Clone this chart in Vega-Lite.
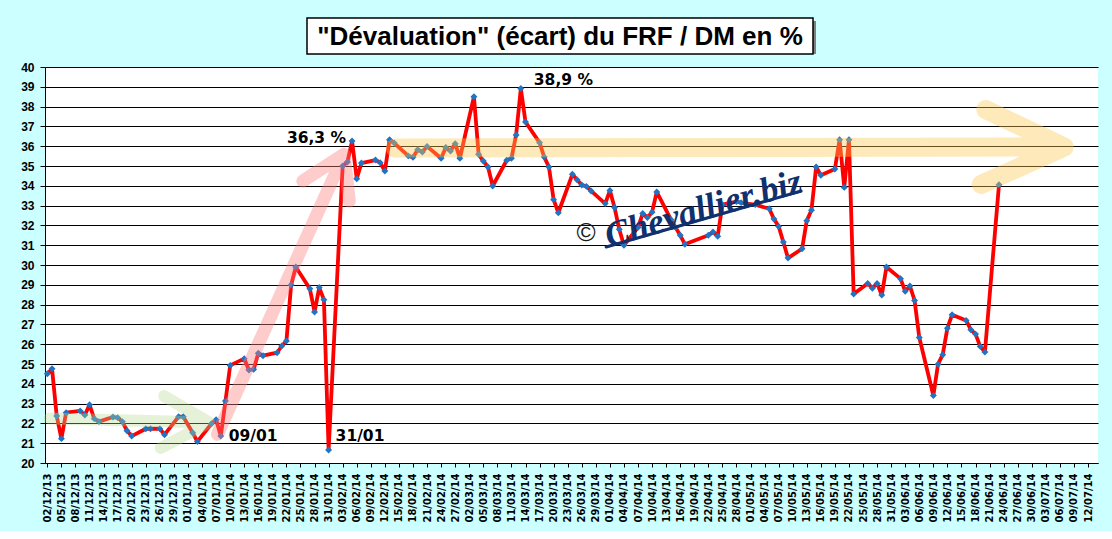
{
  "$schema": "https://vega.github.io/schema/vega-lite/v6.json",
  "background": "#CCFFFF",
  "padding": {"left": 20, "top": 17, "right": 15, "bottom": 8},
  "spacing": 6,
  "config": {"font": "Liberation Sans", "view": {"stroke": null}},
  "datasets": {
    "series": [
      {"date": "2013-12-02", "value": 24.51},
      {"date": "2013-12-03", "value": 24.76},
      {"date": "2013-12-04", "value": 22.37},
      {"date": "2013-12-05", "value": 21.23},
      {"date": "2013-12-06", "value": 22.54},
      {"date": "2013-12-09", "value": 22.63},
      {"date": "2013-12-10", "value": 22.42},
      {"date": "2013-12-11", "value": 22.94},
      {"date": "2013-12-12", "value": 22.24},
      {"date": "2013-12-13", "value": 22.09},
      {"date": "2013-12-16", "value": 22.32},
      {"date": "2013-12-17", "value": 22.29},
      {"date": "2013-12-18", "value": 22.09},
      {"date": "2013-12-19", "value": 21.63},
      {"date": "2013-12-20", "value": 21.36},
      {"date": "2013-12-23", "value": 21.73},
      {"date": "2013-12-24", "value": 21.73},
      {"date": "2013-12-26", "value": 21.73},
      {"date": "2013-12-27", "value": 21.43},
      {"date": "2013-12-30", "value": 22.34},
      {"date": "2013-12-31", "value": 22.34},
      {"date": "2014-01-02", "value": 21.53},
      {"date": "2014-01-03", "value": 21.08},
      {"date": "2014-01-06", "value": 21.98},
      {"date": "2014-01-07", "value": 22.19},
      {"date": "2014-01-08", "value": 21.36},
      {"date": "2014-01-09", "value": 23.13},
      {"date": "2014-01-10", "value": 24.93},
      {"date": "2014-01-13", "value": 25.27},
      {"date": "2014-01-14", "value": 24.70},
      {"date": "2014-01-15", "value": 24.73},
      {"date": "2014-01-16", "value": 25.54},
      {"date": "2014-01-17", "value": 25.42},
      {"date": "2014-01-20", "value": 25.57},
      {"date": "2014-01-21", "value": 25.91},
      {"date": "2014-01-22", "value": 26.16},
      {"date": "2014-01-23", "value": 28.99},
      {"date": "2014-01-24", "value": 29.90},
      {"date": "2014-01-27", "value": 28.80},
      {"date": "2014-01-28", "value": 27.63},
      {"date": "2014-01-29", "value": 28.86},
      {"date": "2014-01-30", "value": 28.25},
      {"date": "2014-01-31", "value": 20.66},
      {"date": "2014-02-03", "value": 35.00},
      {"date": "2014-02-04", "value": 35.20},
      {"date": "2014-02-05", "value": 36.26},
      {"date": "2014-02-06", "value": 34.36},
      {"date": "2014-02-07", "value": 35.15},
      {"date": "2014-02-10", "value": 35.30},
      {"date": "2014-02-11", "value": 35.17},
      {"date": "2014-02-12", "value": 34.75},
      {"date": "2014-02-13", "value": 36.33},
      {"date": "2014-02-14", "value": 36.16},
      {"date": "2014-02-17", "value": 35.51},
      {"date": "2014-02-18", "value": 35.44},
      {"date": "2014-02-19", "value": 35.82},
      {"date": "2014-02-20", "value": 35.71},
      {"date": "2014-02-21", "value": 35.99},
      {"date": "2014-02-24", "value": 35.39},
      {"date": "2014-02-25", "value": 35.93},
      {"date": "2014-02-26", "value": 35.76},
      {"date": "2014-02-27", "value": 36.13},
      {"date": "2014-02-28", "value": 35.39},
      {"date": "2014-03-03", "value": 38.50},
      {"date": "2014-03-04", "value": 35.59},
      {"date": "2014-03-05", "value": 35.25},
      {"date": "2014-03-06", "value": 34.95},
      {"date": "2014-03-07", "value": 33.99},
      {"date": "2014-03-10", "value": 35.29},
      {"date": "2014-03-11", "value": 35.39},
      {"date": "2014-03-12", "value": 36.57},
      {"date": "2014-03-13", "value": 38.91},
      {"date": "2014-03-14", "value": 37.22},
      {"date": "2014-03-17", "value": 36.18},
      {"date": "2014-03-18", "value": 35.45},
      {"date": "2014-03-19", "value": 34.95},
      {"date": "2014-03-20", "value": 33.30},
      {"date": "2014-03-21", "value": 32.64},
      {"date": "2014-03-24", "value": 34.58},
      {"date": "2014-03-25", "value": 34.31},
      {"date": "2014-03-26", "value": 34.04},
      {"date": "2014-03-27", "value": 33.97},
      {"date": "2014-03-28", "value": 33.74},
      {"date": "2014-03-31", "value": 33.10},
      {"date": "2014-04-01", "value": 33.76},
      {"date": "2014-04-02", "value": 32.90},
      {"date": "2014-04-03", "value": 31.80},
      {"date": "2014-04-04", "value": 31.00},
      {"date": "2014-04-07", "value": 31.90},
      {"date": "2014-04-08", "value": 32.60},
      {"date": "2014-04-09", "value": 32.40},
      {"date": "2014-04-10", "value": 32.67},
      {"date": "2014-04-11", "value": 33.69},
      {"date": "2014-04-14", "value": 32.30},
      {"date": "2014-04-15", "value": 31.90},
      {"date": "2014-04-16", "value": 31.50},
      {"date": "2014-04-17", "value": 31.05},
      {"date": "2014-04-22", "value": 31.50},
      {"date": "2014-04-23", "value": 31.67},
      {"date": "2014-04-24", "value": 31.45},
      {"date": "2014-04-25", "value": 33.05},
      {"date": "2014-04-28", "value": 33.20},
      {"date": "2014-04-29", "value": 33.15},
      {"date": "2014-04-30", "value": 33.10},
      {"date": "2014-05-02", "value": 33.05},
      {"date": "2014-05-05", "value": 32.84},
      {"date": "2014-05-06", "value": 32.32},
      {"date": "2014-05-07", "value": 31.95},
      {"date": "2014-05-08", "value": 31.16},
      {"date": "2014-05-09", "value": 30.35},
      {"date": "2014-05-12", "value": 30.82},
      {"date": "2014-05-13", "value": 32.24},
      {"date": "2014-05-14", "value": 32.77},
      {"date": "2014-05-15", "value": 34.95},
      {"date": "2014-05-16", "value": 34.53},
      {"date": "2014-05-19", "value": 34.85},
      {"date": "2014-05-20", "value": 36.33},
      {"date": "2014-05-21", "value": 33.92},
      {"date": "2014-05-22", "value": 36.33},
      {"date": "2014-05-23", "value": 28.53},
      {"date": "2014-05-26", "value": 29.07},
      {"date": "2014-05-27", "value": 28.83},
      {"date": "2014-05-28", "value": 29.07},
      {"date": "2014-05-29", "value": 28.48},
      {"date": "2014-05-30", "value": 29.90},
      {"date": "2014-06-02", "value": 29.31},
      {"date": "2014-06-03", "value": 28.67},
      {"date": "2014-06-04", "value": 28.94},
      {"date": "2014-06-05", "value": 28.21},
      {"date": "2014-06-06", "value": 26.34},
      {"date": "2014-06-09", "value": 23.41},
      {"date": "2014-06-10", "value": 24.99},
      {"date": "2014-06-11", "value": 25.47},
      {"date": "2014-06-12", "value": 26.81},
      {"date": "2014-06-13", "value": 27.49},
      {"date": "2014-06-16", "value": 27.20},
      {"date": "2014-06-17", "value": 26.73},
      {"date": "2014-06-18", "value": 26.51},
      {"date": "2014-06-19", "value": 25.89},
      {"date": "2014-06-20", "value": 25.60},
      {"date": "2014-06-23", "value": 34.05}
    ],
    "arrows": [
      {"arrow": "vert", "i": 1, "date": "2013-12-02T12:00:00Z", "value": 22.25},
      {"arrow": "vert", "i": 2, "date": "2014-01-05T12:00:00Z", "value": 22.05},
      {"arrow": "vert", "i": 3, "date": "2013-12-26T22:00:00Z", "value": 23.38},
      {"arrow": "vert", "i": 4, "date": "2014-01-05T12:00:00Z", "value": 22.05},
      {"arrow": "vert", "i": 5, "date": "2013-12-26T05:00:00Z", "value": 20.76},
      {"arrow": "rouge", "i": 1, "date": "2014-01-07T07:00:00Z", "value": 21.45},
      {"arrow": "rouge", "i": 2, "date": "2014-02-03T07:00:00Z", "value": 35.59},
      {"arrow": "rouge", "i": 3, "date": "2014-01-25T12:00:00Z", "value": 34.24},
      {"arrow": "rouge", "i": 4, "date": "2014-02-03T07:00:00Z", "value": 35.59},
      {"arrow": "rouge", "i": 5, "date": "2014-02-04T10:00:00Z", "value": 33.23},
      {"arrow": "orange", "i": 1, "date": "2014-02-14T05:00:00Z", "value": 35.91},
      {"arrow": "orange", "i": 2, "date": "2014-07-06T22:00:00Z", "value": 35.96},
      {"arrow": "orange", "i": 3, "date": "2014-06-20T05:00:00Z", "value": 37.85},
      {"arrow": "orange", "i": 4, "date": "2014-07-06T22:00:00Z", "value": 35.96},
      {"arrow": "orange", "i": 5, "date": "2014-06-19T05:00:00Z", "value": 34.07}
    ],
    "notes": [
      {"date": "2014-02-05", "value": 36.26, "label": "36,3 %"},
      {"date": "2014-03-13", "value": 38.91, "label": "38,9 %"},
      {"date": "2014-01-08", "value": 21.36, "label": "09/01"},
      {"date": "2014-01-31", "value": 20.66, "label": "31/01"}
    ],
    "signature": [
      {"date": "2014-04-20T22:00:00Z", "value": 32.83, "label": "Chevallier.biz"},
      {"date": "2014-03-26T22:00:00Z", "value": 31.62, "label": "©"}
    ],
    "underline": [
      {"date": "2014-03-31T05:00:00Z", "value": 30.91},
      {"date": "2014-05-11T19:00:00Z", "value": 33.74}
    ]
  },
  "vconcat": [
    {
      "spacing": 0,
      "hconcat": [
        {
          "width": 261,
          "height": 36,
          "data": {"values": [{}]},
          "mark": {"type": "text"},
          "encoding": {"text": {"value": " "}}
        },
        {
          "width": 506,
          "height": 36,
          "data": {"values": [{"title": "\"Dévaluation\" (écart) du FRF / DM en %"}]},
          "layer": [
            {"mark": {"type": "rect", "fill": "#808080", "xOffset": 3, "yOffset": 3}, "encoding": {}},
            {"mark": {"type": "rect", "fill": "white", "stroke": "black", "strokeWidth": 1.5}, "encoding": {}},
            {
              "mark": {"type": "text", "fontSize": 26, "fontWeight": "bold", "font": "Liberation Sans", "color": "black", "baseline": "middle", "dy": 1},
              "encoding": {"text": {"field": "title"}}
            }
          ]
        }
      ]
    },
    {
      "width": 1053,
      "height": 396,
      "view": {"fill": "white", "stroke": null},
      "encoding": {
        "x": {
          "field": "date",
          "type": "temporal",
          "scale": {
            "type": "utc",
            "domain": [
              {"year": 2013, "month": 12, "date": 1, "hours": 12, "utc": true},
              {"year": 2014, "month": 7, "date": 14, "hours": 3, "utc": true}
            ]
          },
          "axis": {
            "title": null,
            "grid": false,
            "format": "%d/%m/%y",
            "labelAngle": 270,
            "labelFont": "DejaVu Sans",
            "labelFontWeight": "bold",
            "labelFontSize": 10,
            "labelColor": "black",
            "labelPadding": 6,
            "labelOverlap": false,
            "labelFlush": false,
            "labelBound": false,
            "tickColor": "black",
            "tickSize": 4,
            "domainColor": "black",
            "values": [
              {"year": 2013, "month": 12, "date": 2, "utc": true},
              {"year": 2013, "month": 12, "date": 5, "utc": true},
              {"year": 2013, "month": 12, "date": 8, "utc": true},
              {"year": 2013, "month": 12, "date": 11, "utc": true},
              {"year": 2013, "month": 12, "date": 14, "utc": true},
              {"year": 2013, "month": 12, "date": 17, "utc": true},
              {"year": 2013, "month": 12, "date": 20, "utc": true},
              {"year": 2013, "month": 12, "date": 23, "utc": true},
              {"year": 2013, "month": 12, "date": 26, "utc": true},
              {"year": 2013, "month": 12, "date": 29, "utc": true},
              {"year": 2014, "month": 1, "date": 1, "utc": true},
              {"year": 2014, "month": 1, "date": 4, "utc": true},
              {"year": 2014, "month": 1, "date": 7, "utc": true},
              {"year": 2014, "month": 1, "date": 10, "utc": true},
              {"year": 2014, "month": 1, "date": 13, "utc": true},
              {"year": 2014, "month": 1, "date": 16, "utc": true},
              {"year": 2014, "month": 1, "date": 19, "utc": true},
              {"year": 2014, "month": 1, "date": 22, "utc": true},
              {"year": 2014, "month": 1, "date": 25, "utc": true},
              {"year": 2014, "month": 1, "date": 28, "utc": true},
              {"year": 2014, "month": 1, "date": 31, "utc": true},
              {"year": 2014, "month": 2, "date": 3, "utc": true},
              {"year": 2014, "month": 2, "date": 6, "utc": true},
              {"year": 2014, "month": 2, "date": 9, "utc": true},
              {"year": 2014, "month": 2, "date": 12, "utc": true},
              {"year": 2014, "month": 2, "date": 15, "utc": true},
              {"year": 2014, "month": 2, "date": 18, "utc": true},
              {"year": 2014, "month": 2, "date": 21, "utc": true},
              {"year": 2014, "month": 2, "date": 24, "utc": true},
              {"year": 2014, "month": 2, "date": 27, "utc": true},
              {"year": 2014, "month": 3, "date": 2, "utc": true},
              {"year": 2014, "month": 3, "date": 5, "utc": true},
              {"year": 2014, "month": 3, "date": 8, "utc": true},
              {"year": 2014, "month": 3, "date": 11, "utc": true},
              {"year": 2014, "month": 3, "date": 14, "utc": true},
              {"year": 2014, "month": 3, "date": 17, "utc": true},
              {"year": 2014, "month": 3, "date": 20, "utc": true},
              {"year": 2014, "month": 3, "date": 23, "utc": true},
              {"year": 2014, "month": 3, "date": 26, "utc": true},
              {"year": 2014, "month": 3, "date": 29, "utc": true},
              {"year": 2014, "month": 4, "date": 1, "utc": true},
              {"year": 2014, "month": 4, "date": 4, "utc": true},
              {"year": 2014, "month": 4, "date": 7, "utc": true},
              {"year": 2014, "month": 4, "date": 10, "utc": true},
              {"year": 2014, "month": 4, "date": 13, "utc": true},
              {"year": 2014, "month": 4, "date": 16, "utc": true},
              {"year": 2014, "month": 4, "date": 19, "utc": true},
              {"year": 2014, "month": 4, "date": 22, "utc": true},
              {"year": 2014, "month": 4, "date": 25, "utc": true},
              {"year": 2014, "month": 4, "date": 28, "utc": true},
              {"year": 2014, "month": 5, "date": 1, "utc": true},
              {"year": 2014, "month": 5, "date": 4, "utc": true},
              {"year": 2014, "month": 5, "date": 7, "utc": true},
              {"year": 2014, "month": 5, "date": 10, "utc": true},
              {"year": 2014, "month": 5, "date": 13, "utc": true},
              {"year": 2014, "month": 5, "date": 16, "utc": true},
              {"year": 2014, "month": 5, "date": 19, "utc": true},
              {"year": 2014, "month": 5, "date": 22, "utc": true},
              {"year": 2014, "month": 5, "date": 25, "utc": true},
              {"year": 2014, "month": 5, "date": 28, "utc": true},
              {"year": 2014, "month": 5, "date": 31, "utc": true},
              {"year": 2014, "month": 6, "date": 3, "utc": true},
              {"year": 2014, "month": 6, "date": 6, "utc": true},
              {"year": 2014, "month": 6, "date": 9, "utc": true},
              {"year": 2014, "month": 6, "date": 12, "utc": true},
              {"year": 2014, "month": 6, "date": 15, "utc": true},
              {"year": 2014, "month": 6, "date": 18, "utc": true},
              {"year": 2014, "month": 6, "date": 21, "utc": true},
              {"year": 2014, "month": 6, "date": 24, "utc": true},
              {"year": 2014, "month": 6, "date": 27, "utc": true},
              {"year": 2014, "month": 6, "date": 30, "utc": true},
              {"year": 2014, "month": 7, "date": 3, "utc": true},
              {"year": 2014, "month": 7, "date": 6, "utc": true},
              {"year": 2014, "month": 7, "date": 9, "utc": true},
              {"year": 2014, "month": 7, "date": 12, "utc": true}
            ]
          }
        },
        "y": {
          "field": "value",
          "type": "quantitative",
          "scale": {"domain": [20, 40], "nice": false, "zero": false},
          "axis": {
            "title": null,
            "values": [20, 21, 22, 23, 24, 25, 26, 27, 28, 29, 30, 31, 32, 33, 34, 35, 36, 37, 38, 39, 40],
            "grid": true,
            "gridColor": "black",
            "gridOpacity": 1,
            "gridWidth": 1,
            "domainColor": "black",
            "tickColor": "black",
            "tickSize": 5,
            "labelFont": "Liberation Sans",
            "labelFontWeight": "bold",
            "labelFontSize": 12,
            "labelColor": "black",
            "labelPadding": 6
          }
        }
      },
      "layer": [
        {
          "data": {"name": "series"},
          "mark": {"type": "line", "color": "#ff0000", "strokeWidth": 3.8, "strokeJoin": "round"}
        },
        {
          "data": {"name": "series"},
          "mark": {"type": "point", "shape": "diamond", "filled": true, "size": 48, "color": "#1f74c4", "opacity": 1}
        },
        {
          "data": {"name": "arrows"},
          "transform": [{"filter": "datum.arrow == 'vert'"}],
          "mark": {"type": "line", "color": "#b5d98c", "opacity": 0.35, "strokeWidth": 12, "strokeCap": "round", "strokeJoin": "round"},
          "encoding": {"order": {"field": "i"}}
        },
        {
          "data": {"name": "arrows"},
          "transform": [{"filter": "datum.arrow == 'rouge'"}],
          "mark": {"type": "line", "color": "#ff8080", "opacity": 0.4, "strokeWidth": 13, "strokeCap": "round", "strokeJoin": "round"},
          "encoding": {"order": {"field": "i"}}
        },
        {
          "data": {"name": "arrows"},
          "transform": [{"filter": "datum.arrow == 'orange'"}],
          "mark": {"type": "line", "color": "#f9c74f", "opacity": 0.4, "strokeWidth": 19, "strokeCap": "round", "strokeJoin": "round"},
          "encoding": {"order": {"field": "i"}}
        },
        {
          "data": {"name": "notes"},
          "transform": [{"filter": "datum.label == '36,3 %'"}],
          "mark": {"type": "text", "font": "DejaVu Sans", "fontWeight": "bold", "fontSize": 15.5, "align": "right", "baseline": "middle", "dx": -6, "dy": -3, "color": "black"},
          "encoding": {"text": {"field": "label"}}
        },
        {
          "data": {"name": "notes"},
          "transform": [{"filter": "datum.label == '38,9 %'"}],
          "mark": {"type": "text", "font": "DejaVu Sans", "fontWeight": "bold", "fontSize": 15.5, "align": "left", "baseline": "middle", "dx": 13, "dy": -9, "color": "black"},
          "encoding": {"text": {"field": "label"}}
        },
        {
          "data": {"name": "notes"},
          "transform": [{"filter": "datum.label == '09/01'"}],
          "mark": {"type": "text", "font": "DejaVu Sans", "fontWeight": "bold", "fontSize": 15.5, "align": "left", "baseline": "middle", "dx": 8, "dy": 0, "color": "black"},
          "encoding": {"text": {"field": "label"}}
        },
        {
          "data": {"name": "notes"},
          "transform": [{"filter": "datum.label == '31/01'"}],
          "mark": {"type": "text", "font": "DejaVu Sans", "fontWeight": "bold", "fontSize": 15.5, "align": "left", "baseline": "middle", "dx": 7, "dy": -14, "color": "black"},
          "encoding": {"text": {"field": "label"}}
        },
        {
          "data": {"name": "underline"},
          "mark": {"type": "line", "color": "#10306e", "strokeWidth": 3, "strokeCap": "round"}
        },
        {
          "data": {"name": "signature"},
          "transform": [{"filter": "datum.label == 'Chevallier.biz'"}],
          "mark": {"type": "text", "font": "Liberation Serif", "fontStyle": "italic", "fontWeight": "bold", "fontSize": 36, "angle": -16, "align": "center", "baseline": "middle", "color": "#10306e"},
          "encoding": {"text": {"field": "label"}}
        },
        {
          "data": {"name": "signature"},
          "transform": [{"filter": "datum.label == '©'"}],
          "mark": {"type": "text", "font": "Liberation Sans", "fontSize": 26, "align": "center", "baseline": "middle", "color": "#1a1a1a"},
          "encoding": {"text": {"field": "label"}}
        }
      ]
    }
  ]
}
